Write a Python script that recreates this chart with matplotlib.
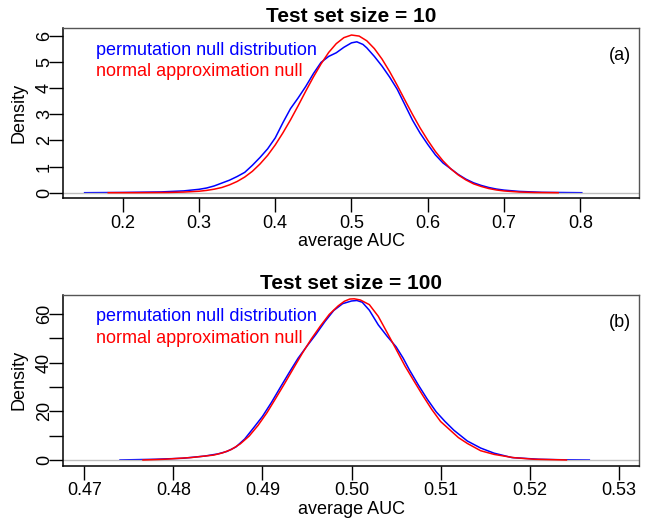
import matplotlib
matplotlib.use("Agg")
import matplotlib.pyplot as plt

plt.rcParams['font.family'] = ['Liberation Sans', 'DejaVu Sans']

# panel (a): test set size = 10
perm_x_10 = [0.150, 0.200, 0.250, 0.280, 0.300, 0.310, 0.320, 0.330, 0.340, 0.350,
             0.360, 0.370, 0.380, 0.390, 0.400, 0.410, 0.420, 0.430, 0.440, 0.450,
             0.460, 0.470, 0.480, 0.490, 0.500, 0.507, 0.515, 0.520, 0.530, 0.540,
             0.550, 0.560, 0.570, 0.580, 0.590, 0.600, 0.610, 0.620, 0.630, 0.640,
             0.650, 0.660, 0.670, 0.680, 0.690, 0.700, 0.720, 0.750, 0.802]
perm_y_10 = [0.0, 0.01, 0.03, 0.07, 0.13, 0.18, 0.26, 0.37, 0.48, 0.62,
             0.78, 1.05, 1.35, 1.68, 2.10, 2.68, 3.22, 3.63, 4.07, 4.56,
             4.99, 5.22, 5.36, 5.57, 5.74, 5.78, 5.68, 5.55, 5.22, 4.85,
             4.43, 3.96, 3.37, 2.78, 2.28, 1.85, 1.45, 1.14, 0.92, 0.70,
             0.52, 0.38, 0.28, 0.20, 0.14, 0.10, 0.05, 0.015, 0.0]
norm_x_10 = [0.181, 0.220, 0.260, 0.280, 0.300, 0.310, 0.320, 0.330, 0.340, 0.350,
             0.360, 0.370, 0.380, 0.390, 0.400, 0.410, 0.420, 0.430, 0.440, 0.450,
             0.460, 0.470, 0.480, 0.490, 0.500, 0.510, 0.520, 0.530, 0.540, 0.550,
             0.560, 0.570, 0.580, 0.590, 0.600, 0.610, 0.620, 0.630, 0.640, 0.650,
             0.660, 0.670, 0.680, 0.690, 0.700, 0.720, 0.740, 0.771]
norm_y_10 = [0.0, 0.002, 0.01, 0.025, 0.056, 0.088, 0.135, 0.20, 0.30, 0.43,
             0.60, 0.82, 1.10, 1.43, 1.83, 2.29, 2.79, 3.33, 3.89, 4.43,
             4.93, 5.37, 5.71, 5.94, 6.04, 6.00, 5.82, 5.52, 5.12, 4.64,
             4.11, 3.55, 3.00, 2.48, 2.01, 1.58, 1.22, 0.92, 0.68, 0.49,
             0.34, 0.24, 0.16, 0.105, 0.067, 0.026, 0.009, 0.0]

# panel (b): test set size = 100
perm_x_100 = [0.4740, 0.4780, 0.4810, 0.4835, 0.4850, 0.4860, 0.4870, 0.4880, 0.4890, 0.4900,
              0.4910, 0.4920, 0.4930, 0.4940, 0.4950, 0.4960, 0.4970, 0.4980, 0.4990, 0.5000,
              0.5006, 0.5012, 0.5020, 0.5030, 0.5040, 0.5050, 0.5058, 0.5065, 0.5075, 0.5085,
              0.5095, 0.5105, 0.5115, 0.5130, 0.5145, 0.5160, 0.5180, 0.5210, 0.5235, 0.5267]
perm_y_100 = [0.0, 0.3, 0.7, 1.6, 2.5, 3.5, 5.3, 8.6, 13.2, 17.9,
              23.6, 29.8, 35.9, 41.8, 46.8, 51.6, 56.8, 61.4, 64.2, 65.3,
              65.5, 64.8, 61.5, 55.5, 50.8, 46.5, 41.8, 37.0, 30.8, 25.0,
              19.8, 15.8, 12.2, 7.8, 4.9, 2.8, 1.0, 0.3, 0.1, 0.0]
norm_x_100 = [0.47658, 0.4790, 0.4820, 0.4845, 0.4855, 0.4865, 0.4875, 0.4885, 0.4895, 0.4905,
              0.4915, 0.4925, 0.4935, 0.4945, 0.4955, 0.4965, 0.4975, 0.4985, 0.4992, 0.4998,
              0.5003, 0.5010, 0.5020, 0.5030, 0.5040, 0.5050, 0.5060, 0.5070, 0.5080, 0.5090,
              0.5100, 0.5110, 0.5120, 0.5130, 0.5145, 0.5160, 0.5182, 0.5205, 0.52413]
norm_y_100 = [0.0, 0.3, 1.0, 2.0, 2.9, 4.3, 6.6, 9.8, 14.2, 19.4,
              25.4, 31.5, 37.8, 44.0, 49.8, 55.0, 59.8, 63.3, 65.2, 66.1,
              66.2, 65.7, 63.8, 59.0, 52.3, 45.5, 38.6, 32.5, 26.5, 20.8,
              15.8, 12.5, 9.2, 6.8, 3.8, 2.3, 0.95, 0.3, 0.0]

titles = ["Test set size = 10", "Test set size = 100"]
tags = ["(a)", "(b)"]
legend_labels = ["permutation null distribution", "normal approximation null"]

fig = plt.figure(figsize=(6.46, 5.23), dpi=100)
ax1 = fig.add_axes([0.0971, 0.6208, 0.8925, 0.3257])
ax2 = fig.add_axes([0.0971, 0.1096, 0.8925, 0.3270])

panels = [
    (ax1, perm_x_10, perm_y_10, norm_x_10, norm_y_10,
     (0.1213, 0.8774), (-0.215, 6.31), [0.2, 0.3, 0.4, 0.5, 0.6, 0.7, 0.8],
     [0, 1, 2, 3, 4, 5, 6], ['0', '1', '2', '3', '4', '5', '6']),
    (ax2, perm_x_100, perm_y_100, norm_x_100, norm_y_100,
     (0.46757, 0.53231), (-2.34, 67.9), [0.47, 0.48, 0.49, 0.50, 0.51, 0.52, 0.53],
     [0, 10, 20, 30, 40, 50, 60], ['0', '', '20', '', '40', '', '60']),
]

for i, (ax, px, py, nx, ny, xlim, ylim, xt, yt, ytl) in enumerate(panels):
    ax.plot(px, py, color='#0000FF', lw=1.1, zorder=2)
    ax.axhline(0, color='#BEBEBE', lw=1.0, zorder=2.5)
    ax.plot(nx, ny, color='#FF0000', lw=1.1, zorder=3)
    ax.set_xlim(*xlim)
    ax.set_ylim(*ylim)
    ax.set_xticks(xt)
    if i == 0:
        ax.set_xticklabels(['%.1f' % v for v in xt])
    else:
        ax.set_xticklabels(['%.2f' % v for v in xt])
    ax.set_yticks(yt)
    ax.set_yticklabels(ytl, rotation=90, va='center')
    ax.tick_params(axis='both', direction='out', length=10, width=1,
                   labelsize=13, color='black')
    ax.tick_params(axis='x', pad=2)
    ax.tick_params(axis='y', pad=-3)
    ax.set_xlabel("average AUC", fontsize=13, labelpad=1)
    ax.set_ylabel("Density", fontsize=13, labelpad=6)
    ax.set_title(titles[i], fontsize=15, fontweight='bold', pad=4)
    for s in ['left', 'bottom']:
        ax.spines[s].set_color('black')
        ax.spines[s].set_linewidth(1.1)
    for s in ['top', 'right']:
        ax.spines[s].set_color('#555555')
        ax.spines[s].set_linewidth(1.0)
    ax.text(0.0578, 0.87, legend_labels[0], color='#0000FF', fontsize=13,
            transform=ax.transAxes, ha='left', va='center')
    ax.text(0.0578, 0.746, legend_labels[1], color='#FF0000', fontsize=13,
            transform=ax.transAxes, ha='left', va='center')
    ax.text(0.9856, 0.836, tags[i], fontsize=13, transform=ax.transAxes,
            ha='right', va='center')

fig.savefig("out.png", dpi=100)
